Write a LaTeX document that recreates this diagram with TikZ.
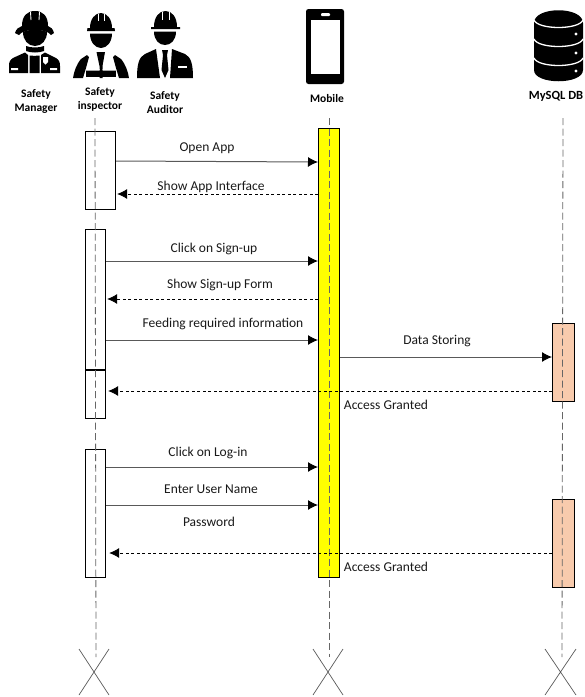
\documentclass[tikz,border=0pt]{standalone}
\usepackage{fontspec}
\setmainfont{Carlito}
\usetikzlibrary{arrows.meta}
\definecolor{peach}{RGB}{248,203,173}
\definecolor{pureyellow}{RGB}{255,255,0}
\tikzset{
 lbl/.style={font=\fontsize{13.5}{14}\selectfont,text=black!90,inner sep=0pt},
 head/.style={font=\bfseries\fontsize{11.5}{14}\selectfont,align=center,inner sep=0pt,text=black},
 act/.style={draw=black,line width=1.2pt,minimum width=#1,inner sep=0pt,anchor=north west},
 life/.style={draw=black!60,line width=.8pt,dash pattern=on 7pt off 3.5pt},
 msg/.style={draw=black!65,line width=1pt,-{Latex[black,length=10pt,width=10pt]}},
 ret/.style={draw=black,line width=.7pt,dash pattern=on 3pt off 2.5pt,-{Latex[black,length=10pt,width=10pt]}},
 cross/.style={draw=black!65,line width=.7pt},
 ic/.style={fill=black,draw=none},
 icw/.style={fill=white,draw=none},
}
\begin{document}
\begin{tikzpicture}[x=1pt,y=-1pt]
\useasboundingbox (0,0) rectangle (585,697);
\coordinate (lit) at (95,118); \coordinate (lib) at (96,657);
\coordinate (lmt) at (329,118); \coordinate (lmb) at (329,657);
\coordinate (ldt) at (563,118); \coordinate (ldb) at (562,657);
% boxes
\node[act=30pt,minimum height=78pt] (b1) at (85,131) {};
\node[act=20pt,minimum height=141pt] (b2) at (85,229) {};
\node[act=20pt,minimum height=49pt] (b3) at (85,369) {};
\node[act=20pt,minimum height=128pt] (b4) at (85,449) {};
\node[act=21pt,minimum height=449pt,fill=pureyellow] (mob) at (318,128) {};
\node[act=22pt,minimum height=78pt,fill=peach] (d1) at (552,323) {};
\node[act=22pt,minimum height=88pt,fill=peach] (d2) at (552,499) {};
\draw[life] (lit) -- (lib);
\draw[life] (lmt) -- (lmb);
\draw[life] (ldt) -- (ldb);
% y levels
\foreach \n/\y in {ya/162,yb/194,yc/261,yd/299,ye/340,yf/357,yg/391,yh/467,yi/505,yj/553}{\coordinate (\n) at (0,\y);}
% messages
\draw[msg] (b1.east |- 0,161) -- (mob.west |- ya);
\draw[ret] (mob.west |- yb) -- ([xshift=1pt]b1.east |- yb);
\draw[msg] (b2.east |- yc) -- (mob.west |- yc);
\draw[ret] (mob.west |- yd) -- ([xshift=1pt]b2.east |- yd);
\draw[msg] (b2.east |- ye) -- (mob.west |- ye);
\draw[msg] (mob.east |- yf) -- (d1.west |- yf);
\draw[ret] (d1.west |- yg) -- ([xshift=2pt]b3.east |- yg);
\draw[msg] (b4.east |- yh) -- (mob.west |- yh);
\draw[msg] (b4.east |- yi) -- (mob.west |- yi);
\draw[ret] (d2.west |- yj) -- ([xshift=3pt]b4.east |- yj);
% labels
\node[lbl] (t1) at (207,148.5) {Open App};
\node[lbl] (t2) at (211,186.5) {Show App Interface};
\node[lbl] (t3) at (214,248.5) {Click on Sign-up};
\node[lbl] (t4) at (220,284.5) {Show Sign-up Form};
\node[lbl] (t5) at (223,323.5) {Feeding required information};
\node[lbl] (t6) at (437,341.5) {Data Storing};
\node[lbl] (t7) at (386,404.5) {Access Granted};
\node[lbl] (t8) at (208,452.5) {Click on Log-in};
\node[lbl] (t9) at (211,489.5) {Enter User Name};
\node[lbl] (t10) at (209,521.5) {Password};
\node[lbl] (t11) at (386,566.5) {Access Granted};
% crosses
\draw[cross] (79,649) -- (109,695) (109,649) -- (79,695);
\draw[cross] (313,649) -- (343,695) (343,649) -- (313,695);
\draw[cross] (545,649) -- (576,695) (576,649) -- (545,695);
% headers
\node[head] (h1) at (36,101) {Safety\\Manager};
\node[head] (h2) at (100,99) {Safety\\inspector};
\node[head] (h3) at (165,103) {Safety\\Auditor};
\node[head] (h4) at (327,99) {Mobile};
\node[head,font=\bfseries\fontsize{12.5}{14}\selectfont] (h5) at (556,96) {MySQL DB};
% manager icon
\fill[ic] (15,33) .. controls (16,29) and (19,27) .. (22,26) .. controls (22,16) and (27,11) .. (35,11) .. controls (43,11) and (48,16) .. (48,26) .. controls (51,27) and (53,29) .. (54,33) -- (51,35) .. controls (46,28) and (24,28) .. (19,35) -- cycle;
\draw[white,line width=.9pt] (30.5,12) -- (31,20) (39.5,12) -- (39,20);
\fill[ic] (23,32) .. controls (28,29) and (42,29) .. (47,32) .. controls (47,40) and (42,46) .. (35,46) .. controls (28,46) and (23,40) .. (23,32) -- cycle;
\fill[ic] (26,46) -- (26,51) .. controls (31,53) and (39,53) .. (44,51) -- (44,46) .. controls (39,48) and (31,48) .. (26,46) -- cycle;
\fill[ic] (25,52.5) -- (13,58) .. controls (10,60) and (9,62) .. (9,66) -- (9,73) -- (28,73) -- (28,55) -- cycle;
\fill[ic] (29.5,55.5) .. controls (33,56) and (36,56) .. (39.5,55.5) -- (39.5,73) -- (29.5,73) -- cycle;
\fill[ic] (45,52.5) -- (56,58) .. controls (59,60) and (60,62) .. (60,66) -- (60,73) -- (41,73) -- (41,55) -- cycle;
\fill[icw] (11,68) rectangle (18,70) (50,68) rectangle (57,70);
\fill[icw] (43,57) -- (48,57) -- (48,62) -- (45.5,64.5) -- (43,62) -- cycle;
% inspector icon
\fill[ic] (87,31) -- (87.5,28) -- (90,28) .. controls (90,19) and (95,13) .. (101,13) .. controls (107,13) and (112,19) .. (112,28) -- (114.5,28) -- (115,31) -- cycle;
\draw[white,line width=.9pt] (98,14) -- (98,20.5) (104.5,14) -- (104.5,20.5);
\fill[ic] (90,33.5) -- (112,33.5) .. controls (112,42) and (107,48) .. (101,48) .. controls (95,48) and (90,42) .. (90,33.5) -- cycle;
\fill[ic] (96.5,52) -- (105,52) -- (102.5,66) -- (102.5,78) -- (99.5,78) -- (99.5,66) -- cycle;
\fill[ic] (86,70) rectangle (116,77);
\fill[icw] (86,69) rectangle (99.5,70.5) (102.5,69) rectangle (116,70.5);
\fill[ic] (87,55) -- (81,59) .. controls (76,65) and (74,72) .. (73,78) -- (83,78) -- (86,68) -- (89,57) -- cycle;
\fill[ic] (115,55) -- (121,59) .. controls (126,65) and (128,72) .. (129,78) -- (119,78) -- (116,68) -- (113,57) -- cycle;
% auditor icon
\fill[ic] (151,29) -- (151,27) -- (154,27) .. controls (154,17) and (159,11) .. (165.5,11) .. controls (172,11) and (177,17) .. (177,27) -- (180,27) -- (180,29) -- cycle;
\draw[white,line width=.9pt] (162.5,12) -- (162.5,20) (169,12) -- (169,20);
\fill[ic] (154,31.5) -- (176,31.5) .. controls (176,40) and (171,45) .. (165,45) .. controls (159,45) and (154,40) .. (154,31.5) -- cycle;
\fill[ic] (156,49) -- (145,54) .. controls (139,57) and (137,64) .. (137,78) -- (160,78) -- cycle;
\fill[ic] (172,49) -- (185,54) .. controls (191,57) and (193,64) .. (193,78) -- (170,78) -- cycle;
\fill[ic] (162,50) -- (168,50) -- (167,55) -- (168.5,70) -- (165,78) -- (161.5,70) -- (163,55) -- cycle;
\fill[icw] (178,66) rectangle (187,68);
% phone icon
\fill[ic,rounded corners=2.5pt] (306,9) rectangle (344,84);
\fill[icw] (311,19.5) rectangle (340,74);
\fill[icw,rounded corners=1pt] (321,13) rectangle (330,16);
% database icon
\fill[ic] (534,23) .. controls (534,6) and (583,6) .. (583,23) -- (583,70) .. controls (583,85) and (534,85) .. (534,70) -- cycle;
\draw[white,line width=1.3pt] (534,20) .. controls (538,30) and (579,30) .. (583,20);
\draw[white,line width=1.3pt] (534,39) .. controls (538,49) and (579,49) .. (583,39);
\draw[white,line width=1.3pt] (534,58) .. controls (538,68) and (579,68) .. (583,58);
\fill[icw] (576,34) circle (1.6pt) (576,53) circle (1.6pt) (576,71) circle (1.6pt);
\end{tikzpicture}
\end{document}
